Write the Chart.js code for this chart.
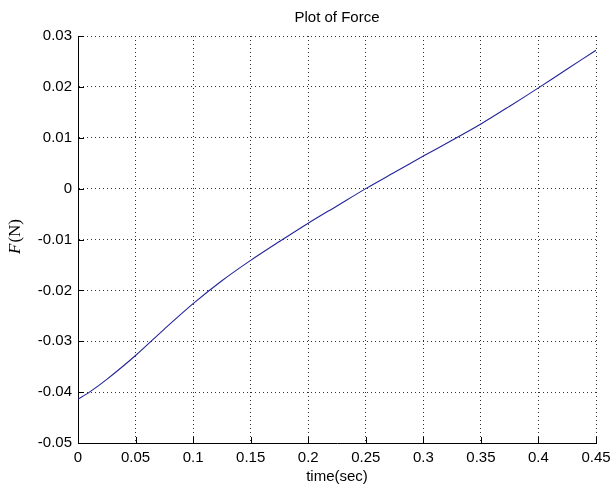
<!DOCTYPE html>
<html>
<head>
<meta charset="utf-8">
<script src="https://cdn.jsdelivr.net/npm/chart.js@4"></script>
<style>
  html, body { margin: 0; padding: 0; background: #fff; }
  #c { display: block; }
</style>
</head>
<body>
<canvas id="c" width="612" height="486"></canvas>
<script>
// time (sec) and force (N)
const times = [0, 0.01, 0.025, 0.05, 0.075, 0.1, 0.125, 0.15, 0.175, 0.2, 0.225,
               0.25, 0.275, 0.3, 0.325, 0.35, 0.375, 0.4, 0.425, 0.45];
const force = [-0.0414, -0.0400, -0.0375, -0.0328, -0.0276, -0.0226, -0.0181, -0.0141,
               -0.0104, -0.0068, -0.0034, 0.0000, 0.0032, 0.0064, 0.0095, 0.0127,
               0.0162, 0.0198, 0.0235, 0.0272];

const xTicks = [0, 0.05, 0.1, 0.15, 0.2, 0.25, 0.3, 0.35, 0.4, 0.45];
const xTickLabels = ['0', '0.05', '0.1', '0.15', '0.2', '0.25', '0.3', '0.35', '0.4', '0.45'];
const yTicks = [-0.05, -0.04, -0.03, -0.02, -0.01, 0, 0.01, 0.02, 0.03];
const yTickLabels = ['-0.05', '-0.04', '-0.03', '-0.02', '-0.01', '0', '0.01', '0.02', '0.03'];

const FONT = 'Liberation Sans, Arial, sans-serif';

// titel, achsenbeschriftung und innenliegende ticks (matlab-stil)
const decor = {
  id: 'decor',
  afterDraw(chart) {
    const { ctx, chartArea: a, scales } = chart;
    const mid = (a.left + a.right) / 2;
    ctx.save();
    ctx.fillStyle = '#000';

    // ticks nach innen
    ctx.strokeStyle = '#000';
    ctx.lineWidth = 1;
    ctx.beginPath();
    xTicks.forEach(v => {
      const px = Math.round(scales.x.getPixelForValue(v)) + 0.5;
      ctx.moveTo(px, a.bottom);
      ctx.lineTo(px, a.bottom - 6);
    });
    yTicks.forEach(v => {
      const py = Math.round(scales.y.getPixelForValue(v)) + 0.5;
      ctx.moveTo(a.left, py);
      ctx.lineTo(a.left + 6, py);
    });
    ctx.stroke();

    ctx.font = '15px ' + FONT;
    ctx.textAlign = 'center';
    ctx.textBaseline = 'middle';
    ctx.fillText('Plot of Force', mid, 18);
    ctx.fillText('time(sec)', mid, 477);

    // y-achse: F kursiv, (N) normal
    ctx.translate(16, 237);
    ctx.rotate(-Math.PI / 2);
    const f1 = 'italic 17px Liberation Serif, serif';
    const f2 = '17px Liberation Serif, serif';
    ctx.font = f1; const w1 = ctx.measureText('F').width;
    ctx.font = f2; const w2 = ctx.measureText('(N)').width;
    const start = -(w1 + w2) / 2;
    ctx.textAlign = 'left';
    ctx.font = f1; ctx.fillText('F', start, 0);
    ctx.font = f2; ctx.fillText('(N)', start + w1 + 1, 0);
    ctx.restore();
  }
};

new Chart(document.getElementById('c'), {
  type: 'scatter',
  data: {
    datasets: [{
      data: times.map((t, i) => ({ x: t, y: force[i] })),
      showLine: true,
      borderColor: '#23239a',
      borderWidth: 1.1,
      pointRadius: 0,
      tension: 0.3,
    }],
  },
  options: {
    responsive: false,
    animation: false,
    layout: { padding: { left: 0, right: 16, top: 36, bottom: 0 } },
    plugins: { legend: { display: false }, tooltip: { enabled: false }, title: { display: false } },
    scales: {
      x: {
        type: 'linear',
        min: 0,
        max: 0.45,
        afterBuildTicks: s => { s.ticks = xTicks.map(v => ({ value: v })); },
        afterFit: s => { s.height = 43; s.paddingLeft = 0; s.paddingRight = 0; },
        ticks: {
          color: '#000',
          padding: 6,
          maxRotation: 0,
          font: { family: FONT, size: 15 },
          callback: (v, i) => xTickLabels[i],
        },
        grid: { color: '#333', drawTicks: false, lineWidth: 1 },
        border: { color: '#000', width: 1, dash: [1, 3] },
      },
      y: {
        min: -0.05,
        max: 0.03,
        afterBuildTicks: s => { s.ticks = yTicks.map(v => ({ value: v })); },
        afterFit: s => { s.width = 78; s.paddingTop = 0; s.paddingBottom = 0; },
        ticks: {
          color: '#000',
          padding: 6,
          font: { family: FONT, size: 15 },
          callback: (v, i) => yTickLabels[i],
        },
        grid: { color: '#333', drawTicks: false, lineWidth: 1 },
        border: { color: '#000', width: 1, dash: [1, 3] },
      },
    },
  },
  plugins: [decor],
});
</script>
</body>
</html>
